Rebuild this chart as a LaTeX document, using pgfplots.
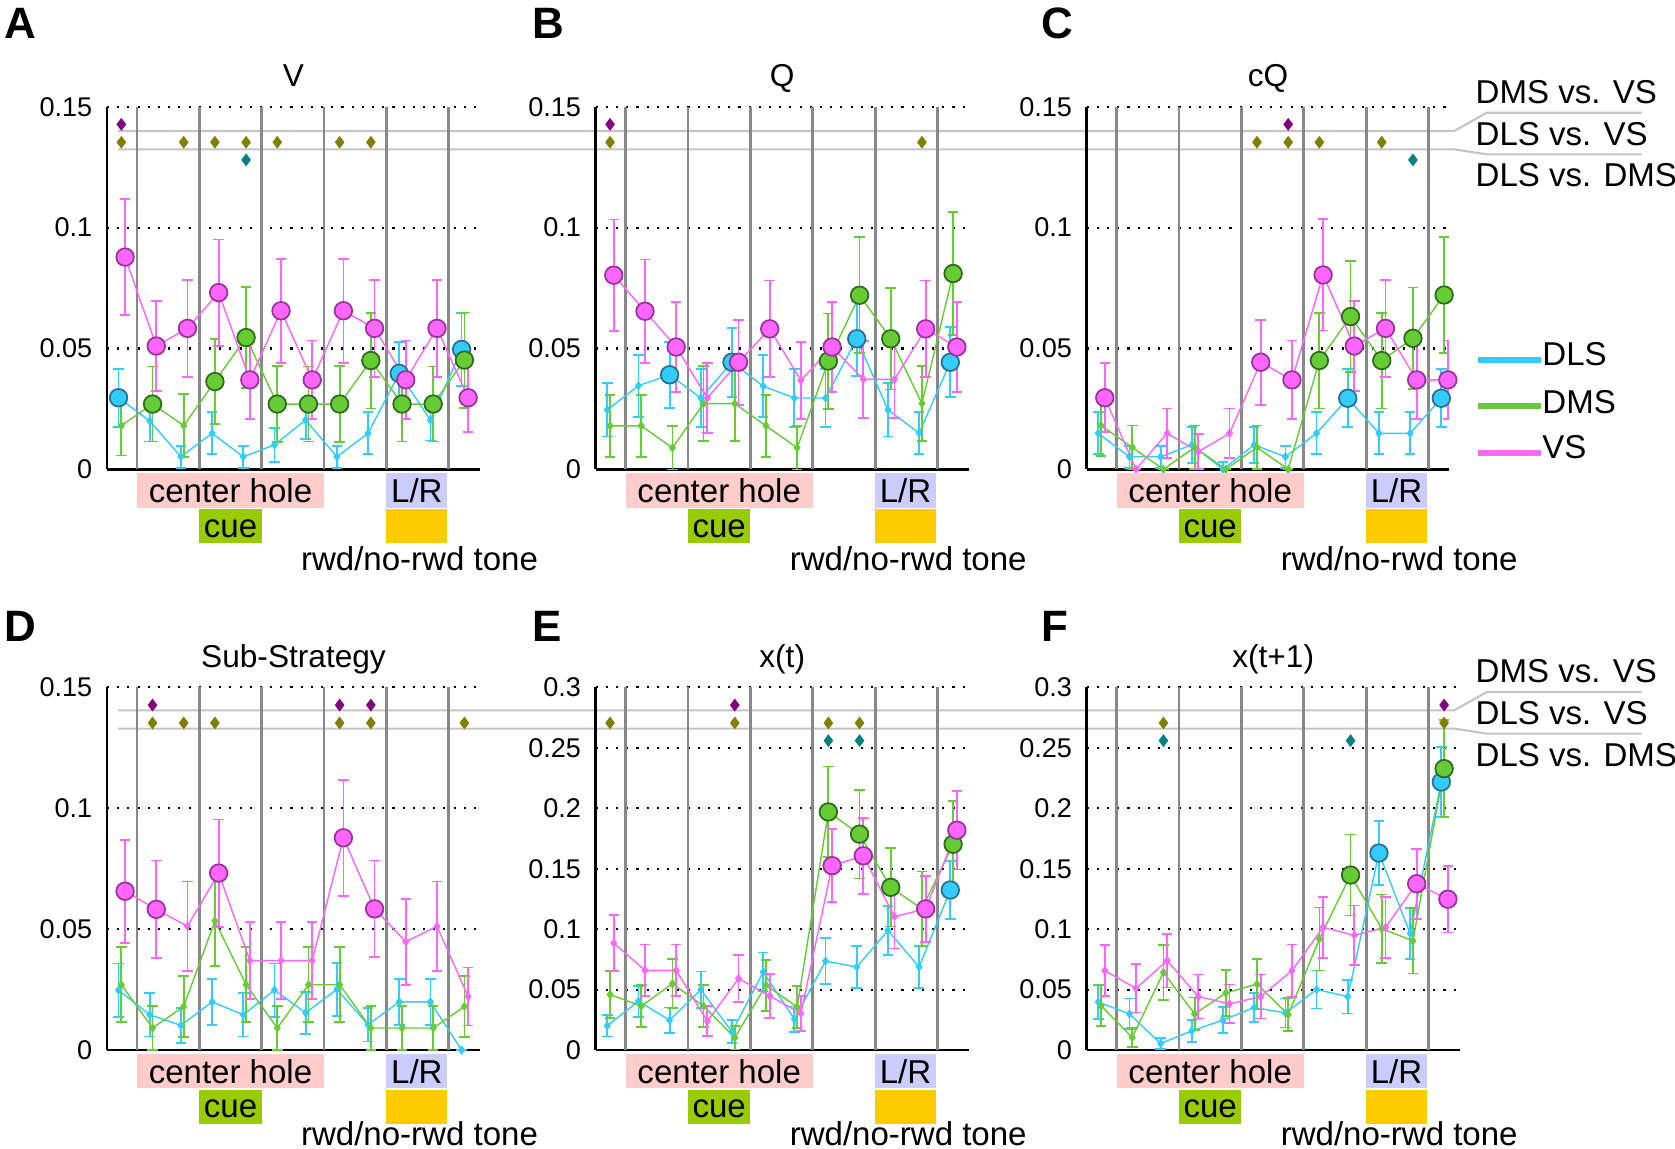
\documentclass[border=0pt]{standalone}
\usepackage{fontspec}
\setmainfont{Liberation Sans}
\usepackage{pgfplots}
\usepackage{pgfplotstable}
\pgfplotsset{compat=1.18}

\definecolor{cDLS}{HTML}{33CCFF}
\definecolor{cDMS}{HTML}{66CC33}
\definecolor{cVS}{HTML}{FF66FF}
\definecolor{dDLS}{HTML}{2A6F8F}
\definecolor{dDMS}{HTML}{2E6B1E}
\definecolor{dVS}{HTML}{993399}
\definecolor{cPur}{HTML}{800080}
\definecolor{cOli}{HTML}{808000}
\definecolor{cTea}{HTML}{008080}
\definecolor{cPink}{HTML}{FFCCCC}
\definecolor{cCue}{HTML}{99CC00}
\definecolor{cLR}{HTML}{CCCCFF}
\definecolor{cTone}{HTML}{FFCC00}
\definecolor{cVert}{HTML}{888888}
\definecolor{cSig}{HTML}{C4C4C4}

\pgfplotstableread{
x dls dlse dlsc dms dmse dmsc vs vse vsc
1 0.0296 0.012 1 0.0181 0.0124 0 0.0878 0.024 1
2 0.0200 0.0085 0 0.0270 0.0155 1 0.0510 0.0185 1
3 0.0052 0.0045 0 0.0181 0.0130 0 0.0583 0.0200 1
4 0.0149 0.0087 0 0.0363 0.0177 1 0.0731 0.0220 1
5 0.0052 0.0045 0 0.0545 0.0210 1 0.0370 0.0163 1
6 0.0101 0.0070 0 0.0270 0.0157 1 0.0656 0.0215 1
7 0.0204 0.0080 0 0.0270 0.0155 1 0.0370 0.0163 1
8 0.0052 0.0045 0 0.0270 0.0157 1 0.0656 0.0215 1
9 0.0149 0.0087 0 0.0450 0.0198 1 0.0583 0.0200 1
10 0.0397 0.0130 1 0.0270 0.0155 1 0.0370 0.0163 1
11 0.0204 0.0085 0 0.0270 0.0155 1 0.0583 0.0200 1
12 0.0496 0.0150 1 0.0452 0.0197 1 0.0296 0.0143 1
}\tA
\pgfplotstableread{
x dls dlse dlsc dms dmse dmsc vs vse vsc
1 0.0246 0.0110 0 0.0180 0.0128 0 0.0803 0.0230 1
2 0.0346 0.0128 0 0.0180 0.0128 0 0.0654 0.0214 1
3 0.0391 0.0136 1 0.0089 0.0090 0 0.0506 0.0185 1
4 0.0295 0.0120 0 0.0272 0.0155 0 0.0295 0.0145 0
5 0.0443 0.0143 1 0.0272 0.0155 0 0.0443 0.0176 1
6 0.0344 0.0128 0 0.0180 0.0128 0 0.0581 0.0200 1
7 0.0295 0.0120 0 0.0089 0.0090 0 0.0368 0.0160 0
8 0.0295 0.0120 0 0.0448 0.0197 1 0.0506 0.0185 1
9 0.0540 0.0155 1 0.0720 0.0240 1 0.0372 0.0160 0
10 0.0246 0.0110 0 0.0540 0.0210 1 0.0372 0.0160 0
11 0.0150 0.0087 0 0.0272 0.0155 0 0.0581 0.0200 1
12 0.0443 0.0145 1 0.0810 0.0255 1 0.0506 0.0185 1
}\tB
\pgfplotstableread{
x dls dlse dlsc dms dmse dmsc vs vse vsc
1 0.0149 0.0087 0 0.0181 0.0125 0 0.0296 0.0143 1
2 0.0052 0.0045 0 0.0091 0.0090 0 0.0000 0.0000 0
3 0.0052 0.0045 0 0.0000 0.0000 0 0.0149 0.0103 0
4 0.0101 0.0075 0 0.0091 0.0090 0 0.0073 0.0073 0
5 0.0000 0.0030 0 0.0000 0.0000 0 0.0149 0.0103 0
6 0.0101 0.0075 0 0.0091 0.0090 0 0.0443 0.0176 1
7 0.0052 0.0045 0 0.0000 0.0000 0 0.0370 0.0163 1
8 0.0149 0.0087 0 0.0450 0.0198 1 0.0804 0.0230 1
9 0.0294 0.0120 1 0.0632 0.0230 1 0.0510 0.0185 1
10 0.0149 0.0087 0 0.0450 0.0198 1 0.0583 0.0200 1
11 0.0149 0.0087 0 0.0542 0.0210 1 0.0370 0.0163 1
12 0.0294 0.0120 1 0.0721 0.0240 1 0.0370 0.0163 1
}\tC
\pgfplotstableread{
x dls dlse dlsc dms dmse dmsc vs vse vsc
1 0.0248 0.0110 0 0.0270 0.0155 0 0.0657 0.0213 1
2 0.0146 0.0090 0 0.0091 0.0090 0 0.0582 0.0202 1
3 0.0102 0.0072 0 0.0180 0.0125 0 0.0512 0.0185 0
4 0.0199 0.0095 0 0.0534 0.0185 0 0.0732 0.0222 1
5 0.0146 0.0090 0 0.0270 0.0155 0 0.0370 0.0160 0
6 0.0248 0.0110 0 0.0091 0.0090 0 0.0370 0.0160 0
7 0.0154 0.0087 0 0.0270 0.0155 0 0.0370 0.0160 0
8 0.0251 0.0110 0 0.0270 0.0155 0 0.0878 0.0240 1
9 0.0105 0.0070 0 0.0091 0.0090 0 0.0584 0.0200 1
10 0.0199 0.0095 0 0.0091 0.0090 0 0.0448 0.0178 0
11 0.0199 0.0095 0 0.0091 0.0090 0 0.0512 0.0185 0
12 0.0000 0.0000 0 0.0180 0.0125 0 0.0221 0.0120 0
}\tD
\pgfplotstableread{
x dls dlse dlsc dms dmse dmsc vs vse vsc
1 0.0201 0.0090 0 0.0459 0.0195 0 0.0885 0.0233 0
2 0.0404 0.0128 0 0.0363 0.0172 0 0.0659 0.0215 0
3 0.0247 0.0105 0 0.0549 0.0203 0 0.0659 0.0215 0
4 0.0500 0.0150 0 0.0363 0.0172 0 0.0239 0.0123 0
5 0.0151 0.0095 0 0.0102 0.0098 0 0.0591 0.0195 0
6 0.0646 0.0160 0 0.0536 0.0210 0 0.0448 0.0180 0
7 0.0255 0.0105 0 0.0357 0.0172 0 0.0302 0.0145 0
8 0.0736 0.0190 0 0.1970 0.0375 1 0.1525 0.0303 1
9 0.0687 0.0175 0 0.1786 0.0367 1 0.1607 0.0313 1
10 0.0989 0.0205 0 0.1346 0.0324 1 0.1104 0.0263 0
11 0.0687 0.0175 0 0.1168 0.0310 0 0.1168 0.0272 1
12 0.1324 0.0237 1 0.1703 0.0357 1 0.1819 0.0325 1
}\tE
\pgfplotstableread{
x dls dlse dlsc dms dmse dmsc vs vse vsc
1 0.0397 0.0140 0 0.0367 0.0168 0 0.0657 0.0213 0
2 0.0299 0.0127 0 0.0104 0.0080 0 0.0510 0.0199 0
3 0.0054 0.0045 0 0.0642 0.0228 0 0.0740 0.0223 0
4 0.0158 0.0090 0 0.0299 0.0135 0 0.0442 0.0182 0
5 0.0248 0.0110 0 0.0472 0.0190 0 0.0382 0.0160 0
6 0.0352 0.0117 0 0.0546 0.0209 0 0.0442 0.0182 0
7 0.0307 0.0120 0 0.0293 0.0135 0 0.0657 0.0216 0
8 0.0501 0.0157 0 0.0919 0.0260 0 0.1015 0.0254 0
9 0.0442 0.0140 0 0.1448 0.0335 1 0.0949 0.0246 0
10 0.1630 0.0266 1 0.1003 0.0284 0 0.1015 0.0254 0
11 0.0964 0.0210 0 0.0904 0.0270 0 0.1376 0.0290 1
12 0.2218 0.0287 1 0.2328 0.0400 1 0.1248 0.0276 1
}\tF

\newcommand\annfont{\fontsize{9.4}{11}\selectfont}
\def\rwdy{-1.01cm}
\newcommand\annot{%
  \fill[cPink] ([yshift=-0.04cm]axis cs:1.5,0) rectangle ([yshift=-0.384cm]axis cs:7.5,0);
  \fill[cCue] ([yshift=-0.40cm]axis cs:3.5,0) rectangle ([yshift=-0.74cm]axis cs:5.5,0);
  \fill[cLR] ([yshift=-0.04cm]axis cs:9.5,0) rectangle ([yshift=-0.384cm]axis cs:11.45,0);
  \fill[cTone] ([yshift=-0.40cm]axis cs:9.5,0) rectangle ([yshift=-0.74cm]axis cs:11.45,0);
  \node[font=\annfont, inner sep=0pt] at ([yshift=-0.215cm]axis cs:4.5,0) {center hole};
  \node[font=\annfont, inner sep=0pt] at ([yshift=-0.59cm]axis cs:4.5,0) {cue};
  \node[font=\annfont, inner sep=0pt] at ([yshift=-0.215cm]axis cs:10.475,0) {L/R};
  \node[font=\annfont, inner sep=0pt, anchor=base west] at ([yshift=\rwdy]axis cs:6.74,0) {rwd/no-rwd tone};
}

\newcommand\drawseries[5]{%
  \addplot[color=#3, line width=0.4pt, mark=diamond*, mark size=1.1pt,
    mark options={solid, line width=0.3pt},
    error bars/.cd, y dir=both, y explicit,
    error bar style={line width=0.5pt, color=#3},
    error mark options={rotate=90, mark size=1.5pt, line width=0.5pt, color=#3}]
    table[x expr=\thisrow{x}+#5, y=#2, y error=#2e]{#1};
  \addplot[only marks, mark=*, mark size=2.5pt,
    mark options={fill=#3, draw=#4, line width=0.5pt},
    restrict expr to domain={\thisrow{#2c}}{0.5:1.5}]
    table[x expr=\thisrow{x}+#5, y=#2]{#1};
}
\newcommand\drawall[1]{%
  \drawseries{#1}{dls}{cDLS}{dDLS}{-0.09}
  \drawseries{#1}{dms}{cDMS}{dDMS}{0}
  \drawseries{#1}{vs}{cVS}{dVS}{0.12}
}

\pgfplotsset{
  every axis title/.style={at={(0.5,1)}, anchor=base, yshift=0.2cm, font=\fontsize{9}{10}\selectfont},
  panel/.style={
    scale only axis, width=3.73cm, height=3.626cm,
    xmin=0.54, xmax=12.5, ymin=0, ymax=0.15,
    anchor=south west,
    axis x line*=bottom, axis y line*=left,
    axis line style={line width=0.7pt, black, -},
    xtick=\empty,
    extra x ticks={1.5,3.5,5.5,7.5,9.5,11.5},
    extra x tick labels={},
    extra x tick style={grid=major},
    x grid style={solid, color=cVert, line width=0.8pt},
    ymajorgrids,
    y grid style={black, line width=0.6pt, dash pattern=on 0.6pt off 2.3pt},
    major tick length=0pt,
    ytick={0,0.05,0.1,0.15},
    yticklabels={0,0.05,0.1,0.15},
    yticklabel style={font=\fontsize{7.7}{9}\selectfont, inner sep=0pt, xshift=-0.14cm},
    /pgf/number format/assume math mode=true,
    after end axis/.code={\annot},
  },
  panelbig/.style={panel, ymax=0.3,
    ytick={0,0.05,0.1,0.15,0.2,0.25,0.3},
    yticklabels={0,0.05,0.1,0.15,0.2,0.25,0.3}},
  sigP/.style={only marks, mark=diamond*, mark size=1.5pt, color=cPur},
  sigO/.style={only marks, mark=diamond*, mark size=1.5pt, color=cOli},
  sigT/.style={only marks, mark=diamond*, mark size=1.5pt, color=cTea},
}

\begin{document}
\begin{tikzpicture}
\path[use as bounding box] (0,0) rectangle (16.75,-11.48);

% significance guide lines (top row)
\draw[cSig, line width=0.6pt] (1.18,-1.31) -- (14.543,-1.31) -- (14.867,-1.127) -- (16.417,-1.127);
\draw[cSig, line width=0.6pt] (1.18,-1.493) -- (14.543,-1.493) -- (14.867,-1.543) -- (16.417,-1.543);
% bottom row
\draw[cSig, line width=0.6pt] (1.18,-7.103) -- (14.543,-7.103) -- (14.867,-6.92) -- (16.417,-6.92);
\draw[cSig, line width=0.6pt] (1.18,-7.286) -- (14.543,-7.286) -- (14.867,-7.336) -- (16.417,-7.336);

\begin{axis}[panel, at={(1.07cm,-4.693cm)}, title={V}]
\drawall{\tA}
\addplot[sigP] coordinates {(1,0.1427)};
\addplot[sigO] coordinates {(1,0.1353)(3,0.1353)(4,0.1353)(5,0.1353)(6,0.1353)(8,0.1353)(9,0.1353)};
\addplot[sigT] coordinates {(5,0.128)};
\end{axis}

\begin{axis}[panel, at={(5.957cm,-4.693cm)}, title={Q}]
\drawall{\tB}
\addplot[sigP] coordinates {(1,0.1427)};
\addplot[sigO] coordinates {(1,0.1353)(11,0.1353)};
\end{axis}

\begin{axis}[panel, at={(10.867cm,-4.693cm)}, width=3.627cm, xmax=12.17, title={cQ}]
\drawall{\tC}
\addplot[sigP] coordinates {(7,0.1427)};
\addplot[sigO] coordinates {(6,0.1353)(7,0.1353)(8,0.1353)(10,0.1353)};
\addplot[sigT] coordinates {(11,0.128)};
\end{axis}

\def\rwdy{-0.95cm}
\begin{axis}[panel, at={(1.07cm,-10.50cm)}, title={Sub-Strategy}]
\drawall{\tD}
\addplot[sigP] coordinates {(2,0.1427)(8,0.1427)(9,0.1427)};
\addplot[sigO] coordinates {(2,0.1353)(3,0.1353)(4,0.1353)(8,0.1353)(9,0.1353)(12,0.1353)};
\end{axis}

\begin{axis}[panelbig, at={(5.957cm,-10.50cm)}, title={x(t)}]
\drawall{\tE}
\addplot[sigP] coordinates {(5,0.2854)};
\addplot[sigO] coordinates {(1,0.2706)(5,0.2706)(8,0.2706)(9,0.2706)};
\addplot[sigT] coordinates {(8,0.256)(9,0.256)};
\end{axis}

\begin{axis}[panelbig, at={(10.867cm,-10.50cm)}, title={x(t+1)}]
\drawall{\tF}
\addplot[sigP] coordinates {(12,0.2854)};
\addplot[sigO] coordinates {(3,0.2706)(12,0.2706)};
\addplot[sigT] coordinates {(3,0.256)(9,0.256)};
\end{axis}

% panel letters
\foreach \L/\X/\Y in {A/0.04/-0.38, B/5.32/-0.38, C/10.41/-0.38, D/0.04/-6.41, E/5.32/-6.41, F/10.41/-6.41}
  \node[anchor=base west, inner sep=0pt, font=\fontsize{12.5}{14}\selectfont\bfseries] at (\X,\Y) {\L};

% comparison labels
\foreach \dy in {0,-5.793} {
  \node[anchor=base west, inner sep=0pt, font=\annfont] at (14.75,-1.033+\dy) {DMS vs. VS};
  \node[anchor=base west, inner sep=0pt, font=\annfont] at (14.75,-1.45+\dy) {DLS vs. VS};
  \node[anchor=base west, inner sep=0pt, font=\annfont] at (14.75,-1.867+\dy) {DLS vs. DMS};
}

% legend
\draw[cDLS, line width=1.7pt] (14.78,-3.595) -- (15.407,-3.595);
\draw[cDMS, line width=1.7pt] (14.78,-4.06) -- (15.407,-4.06);
\draw[cVS, line width=1.7pt] (14.78,-4.527) -- (15.407,-4.527);
\node[anchor=base west, inner sep=0pt, font=\annfont] at (15.417,-3.65) {DLS};
\node[anchor=base west, inner sep=0pt, font=\annfont] at (15.417,-4.133) {DMS};
\node[anchor=base west, inner sep=0pt, font=\annfont] at (15.417,-4.583) {VS};
\end{tikzpicture}
\end{document}
